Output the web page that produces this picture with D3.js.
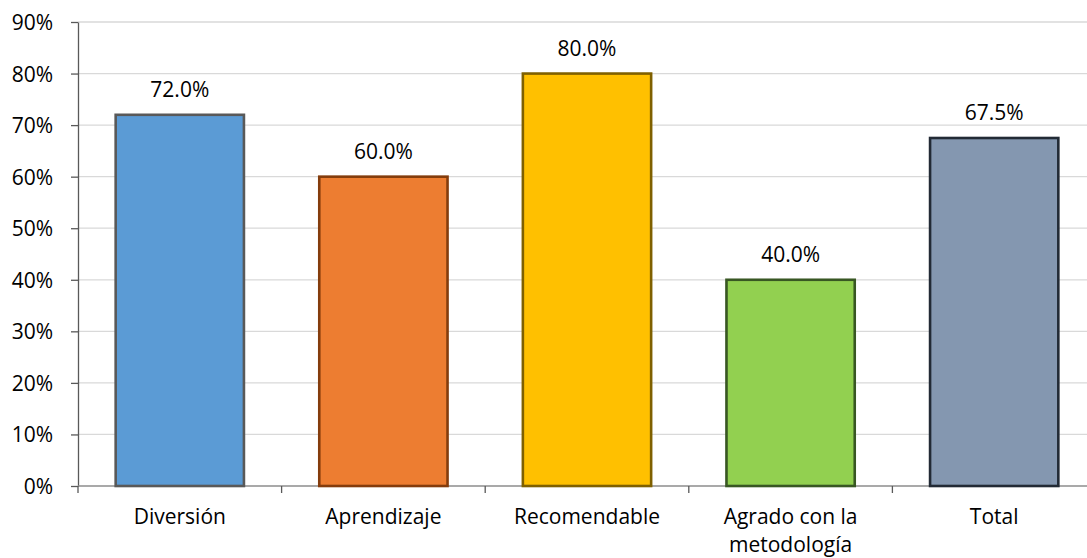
<!DOCTYPE html>
<html><head><meta charset="utf-8">
<script src="https://cdn.jsdelivr.net/npm/d3@7"></script>
<style>body{margin:0;background:#fff}svg{display:block}text{font-family:"Open Sans",sans-serif;fill:#000}</style>
</head><body><svg id="c" width="1087" height="558"></svg>
<script>
const categories = ["Diversión","Aprendizaje","Recomendable","Agrado con la metodología","Total"];
const labelLines = [["Diversión"],["Aprendizaje"],["Recomendable"],["Agrado con la","metodología"],["Total"]];
const values = [0.72,0.60,0.80,0.40,0.675];
const fills = ["#5B9BD5","#ED7D31","#FFC000","#92D050","#8497B0"];
const strokes = ["#595959","#843C0C","#7F6000","#385723","#222A35"];
const yTicks = [0,0.1,0.2,0.3,0.4,0.5,0.6,0.7,0.8,0.9];

(function(){
const FS = 21, FF = "'Open Sans',sans-serif";
const svg = d3.select("#c");
const mL = 78, mR = 1096, mT = 22, mB = 486;
const x = d3.scaleBand().domain(categories).range([mL,mR]).paddingInner(0.37).paddingOuter(0.185);
const xb = d3.scaleBand().domain(categories).range([mL,mR]);
const y = d3.scaleLinear().domain([0,0.9]).range([mB,mT]);

svg.append("g").selectAll("line").data(yTicks.slice(1)).join("line")
  .attr("x1",mL).attr("x2",1087).attr("y1",d=>y(d)).attr("y2",d=>y(d))
  .attr("stroke","#D9D9D9").attr("stroke-width",1.3);

const ya = svg.append("g").attr("transform",`translate(${mL},0)`)
  .call(d3.axisLeft(y).tickValues(yTicks).tickFormat(d3.format(".0%")).tickSize(7).tickSizeOuter(0));
ya.attr("font-family",FF).attr("font-size",FS);
ya.select(".domain").attr("stroke","#595959").attr("stroke-width",1.3);
ya.selectAll(".tick line").attr("stroke","#595959").attr("stroke-width",1.3);
ya.selectAll(".tick text").attr("x",-25).attr("dy","0.357em").attr("fill","#000");

svg.append("line").attr("x1",mL).attr("x2",1087).attr("y1",mB).attr("y2",mB).attr("stroke","#8C8C8C").attr("stroke-width",1.3);
svg.append("g").selectAll("line").data(categories).join("line")
  .attr("x1",d=>xb(d)).attr("x2",d=>xb(d)).attr("y1",mB).attr("y2",mB+7)
  .attr("stroke","#595959").attr("stroke-width",1.3);

svg.append("g").selectAll("rect").data(values).join("rect")
  .attr("x",(d,i)=>x(categories[i])).attr("width",x.bandwidth())
  .attr("y",d=>y(d)).attr("height",d=>y(0)-y(d))
  .attr("fill",(d,i)=>fills[i]).attr("stroke",(d,i)=>strokes[i]).attr("stroke-width",2.6);

svg.append("g").selectAll("text").data(values).join("text")
  .attr("x",(d,i)=>x(categories[i])+x.bandwidth()/2).attr("y",d=>y(d)-18)
  .attr("text-anchor","middle").attr("font-size",FS)
  .text(d=>d3.format(".1%")(d));

const cl = svg.append("g").selectAll("text").data(categories).join("text")
  .attr("x",d=>xb(d)+xb.bandwidth()/2).attr("y",524)
  .attr("text-anchor","middle").attr("font-size",FS);
cl.each(function(d,i){
  const t=d3.select(this);
  labelLines[i].forEach((ln,j)=>t.append("tspan").attr("x",xb(d)+xb.bandwidth()/2).attr("dy",j?27.5:0).text(ln));
});
})();
</script></body></html>
